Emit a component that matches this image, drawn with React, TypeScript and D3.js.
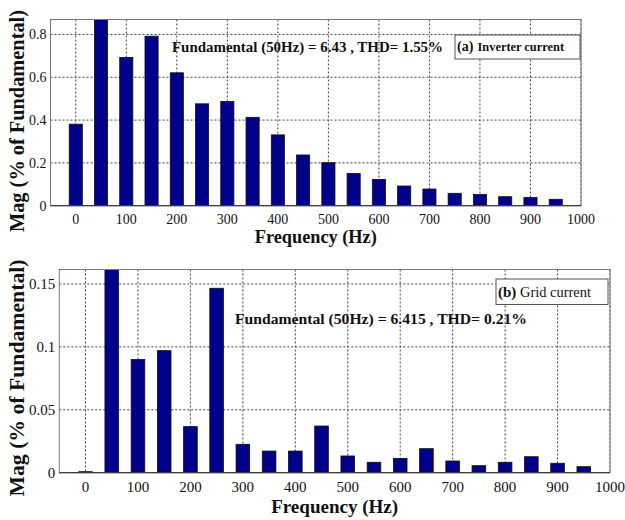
import React from "react";
import * as d3 from "d3";

// Harmonic orders (Hz) shown in the spectra
const freqs = [0, 50, 100, 150, 200, 250, 300, 350, 400, 450, 500, 550, 600, 650, 700, 750, 800, 850, 900, 950];

// Magnitudes in % of fundamental; the fundamental (50 Hz) runs off the top of the axis
const inverterMag = [0.381, 100, 0.693, 0.792, 0.621, 0.476, 0.487, 0.413, 0.331, 0.237, 0.201, 0.151, 0.123, 0.092, 0.078, 0.058, 0.053, 0.042, 0.039, 0.030];
const gridMag = [0.0008, 100, 0.090, 0.097, 0.0366, 0.1466, 0.0226, 0.0172, 0.0172, 0.0371, 0.0133, 0.0083, 0.0114, 0.0191, 0.0093, 0.0056, 0.0083, 0.0127, 0.0075, 0.0048];

const xTicks = [0, 100, 200, 300, 400, 500, 600, 700, 800, 900, 1000];
const inverterYTicks = [0, 0.2, 0.4, 0.6, 0.8];
const gridYTicks = [0, 0.05, 0.1, 0.15];

const FONT = "Liberation Serif, DejaVu Serif, serif";
const BAR_FILL = "#00008b";

type PanelProps = {
  id: string;
  left: number;
  right: number;
  top: number;
  bottom: number;
  yMax: number;
  yTicks: number[];
  values: number[];
  tickSize: number;
  xLabelY: number;
  xLabelSize: number;
  xLabelLen: number;
  yLabelX: number;
  yLabelY: number;
  yLabelSize: number;
  yLabelLen: number;
  note: { text: string; x: number; y: number; size: number; len: number };
  legend: { x: number; y: number; w: number; h: number; tag: string; name: string; tagSize: number; nameSize: number; nameBold: boolean; textY: number; nameX: number; nameLen: number };
};

function Panel(p: PanelProps) {
  const x = d3.scaleLinear().domain([-50, 1000]).range([p.left, p.right]);
  const y = d3.scaleLinear().domain([0, p.yMax]).range([p.bottom, p.top]);
  const barW = x(26) - x(0);
  const clipId = `clip-${p.id}`;
  const txt = { fontFamily: FONT, fill: "#111" } as const;
  return (
    <g>
      <defs>
        <clipPath id={clipId}>
          <rect x={p.left} y={p.top} width={p.right - p.left} height={p.bottom - p.top} />
        </clipPath>
      </defs>
      <rect x={p.left} y={p.top} width={p.right - p.left} height={p.bottom - p.top} fill="#fff" />
      {/* dotted grid */}
      {xTicks.map((t) => (
        <line key={`gx${t}`} x1={x(t)} x2={x(t)} y1={p.top} y2={p.bottom} stroke="#444" strokeWidth={1} strokeDasharray="2,2" />
      ))}
      {p.yTicks.map((t) => (
        <line key={`gy${t}`} x1={p.left} x2={p.right} y1={y(t)} y2={y(t)} stroke="#444" strokeWidth={1} strokeDasharray="2,2" />
      ))}
      {/* bars */}
      <g clipPath={`url(#${clipId})`}>
        {freqs.map((f, i) => (
          <rect
            key={f}
            x={x(f) - barW / 2}
            y={y(p.values[i])}
            width={barW}
            height={y(0) - y(p.values[i])}
            fill={BAR_FILL}
            stroke="#111"
            strokeWidth={0.8}
          />
        ))}
      </g>
      {/* axes box */}
      <rect x={p.left} y={p.top} width={p.right - p.left} height={p.bottom - p.top} fill="none" stroke="#777" strokeWidth={1} />
      <line x1={p.left} x2={p.right} y1={p.bottom} y2={p.bottom} stroke="#333" strokeWidth={1} />
      {/* tick labels */}
      {xTicks.map((t) => (
        <text key={`tx${t}`} x={x(t)} y={p.bottom + p.tickSize + 4} textAnchor="middle" fontSize={p.tickSize} style={txt}>
          {t}
        </text>
      ))}
      {p.yTicks.map((t) => (
        <text key={`ty${t}`} x={p.left - 4} y={y(t)} dy="0.35em" textAnchor="end" fontSize={p.tickSize} style={txt}>
          {String(t)}
        </text>
      ))}
      {/* annotation */}
      <text x={p.note.x} y={p.note.y} fontWeight="bold" fontSize={p.note.size} textLength={p.note.len} lengthAdjust="spacingAndGlyphs" style={txt}>
        {p.note.text}
      </text>
      {/* legend box */}
      <rect x={p.legend.x} y={p.legend.y} width={p.legend.w} height={p.legend.h} fill="#fff" stroke="#555" strokeWidth={1} />
      <text x={p.legend.x + 2} y={p.legend.textY} fontWeight="bold" fontSize={p.legend.tagSize} style={txt}>
        {p.legend.tag}
      </text>
      <text x={p.legend.nameX} y={p.legend.textY} fontWeight={p.legend.nameBold ? "bold" : "normal"} fontSize={p.legend.nameSize} textLength={p.legend.nameLen} lengthAdjust="spacingAndGlyphs" style={txt}>
        {p.legend.name}
      </text>
      {/* axis titles */}
      <text x={(p.left + p.right) / 2} y={p.xLabelY} textAnchor="middle" fontWeight="bold" fontSize={p.xLabelSize} textLength={p.xLabelLen} lengthAdjust="spacingAndGlyphs" style={txt}>
        Frequency (Hz)
      </text>
      <text
        transform={`translate(${p.yLabelX},${p.yLabelY}) rotate(-90)`}
        textAnchor="middle"
        fontWeight="bold"
        fontSize={p.yLabelSize}
        textLength={p.yLabelLen}
        lengthAdjust="spacingAndGlyphs"
        style={txt}
      >
        Mag (% of Fundamental)
      </text>
    </g>
  );
}

export default function App() {
  return (
    <svg width={625} height={520} style={{ position: "absolute", left: 0, top: 0, background: "#fff" }}>
      <Panel
        id="inv"
        left={50.5}
        right={581}
        top={19.5}
        bottom={205.7}
        yMax={0.87}
        yTicks={inverterYTicks}
        values={inverterMag}
        tickSize={14}
        xLabelY={243}
        xLabelSize={18}
        xLabelLen={122}
        yLabelX={24}
        yLabelY={121}
        yLabelSize={20}
        yLabelLen={222}
        note={{ text: "Fundamental (50Hz) = 6.43 , THD= 1.55%", x: 172, y: 52, size: 15, len: 271 }}
        legend={{ x: 455, y: 35, w: 125, h: 24, tag: "(a)", name: "Inverter current", tagSize: 14, nameSize: 12.2, nameBold: true, textY: 51, nameX: 477.5, nameLen: 86.5 }}
      />
      <Panel
        id="grid"
        left={59.3}
        right={610}
        top={269.5}
        bottom={472.7}
        yMax={0.1615}
        yTicks={gridYTicks}
        values={gridMag}
        tickSize={15}
        xLabelY={513}
        xLabelSize={19}
        xLabelLen={127}
        yLabelX={24}
        yLabelY={378}
        yLabelSize={21.5}
        yLabelLen={237}
        note={{ text: "Fundamental (50Hz) = 6.415 , THD= 0.21%", x: 235, y: 324, size: 15.5, len: 292 }}
        legend={{ x: 496, y: 279, w: 112, h: 25.5, tag: "(b)", name: "Grid current", tagSize: 15, nameSize: 15, nameBold: false, textY: 297, nameX: 520, nameLen: 71 }}
      />
    </svg>
  );
}
